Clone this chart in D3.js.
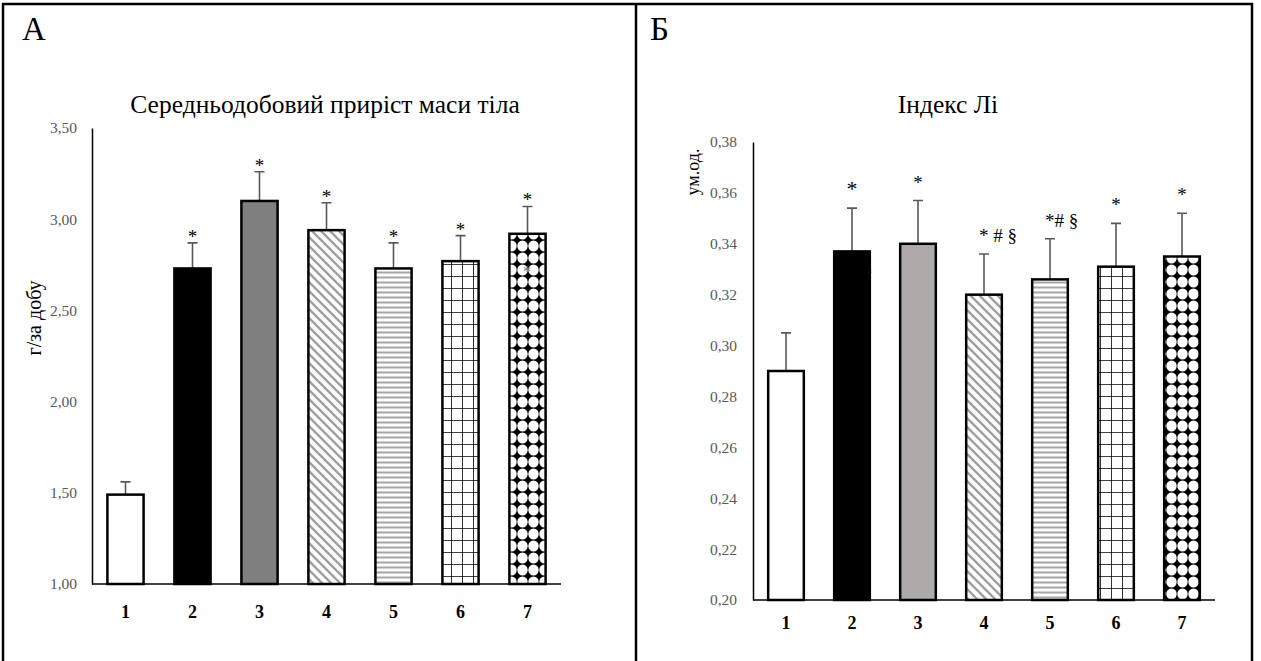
<!DOCTYPE html>
<html>
<head>
<meta charset="utf-8">
<script src="https://cdn.jsdelivr.net/npm/d3@7/dist/d3.min.js"></script>
<style>
  body { margin: 0; background: #fff; }
  text { font-family: "Liberation Serif", "Times New Roman", serif; }
</style>
</head>
<body>
<script>
// data
var groups = ["1", "2", "3", "4", "5", "6", "7"];

var gainValues = [1.49, 2.73, 3.10, 2.94, 2.73, 2.77, 2.92];
var gainErrors = [0.07, 0.14, 0.16, 0.15, 0.14, 0.14, 0.15];
var gainMarks  = ["", "*", "*", "*", "*", "*", "*"];
var gainTicks  = [1.00, 1.50, 2.00, 2.50, 3.00, 3.50];

var leeValues = [0.290, 0.337, 0.340, 0.320, 0.326, 0.331, 0.335];
var leeErrors = [0.015, 0.017, 0.017, 0.016, 0.016, 0.017, 0.017];
var leeMarks  = ["", "*", "*", "* # §", "*# §", "*", "*"];
var leeTicks  = [0.20, 0.22, 0.24, 0.26, 0.28, 0.30, 0.32, 0.34, 0.36, 0.38];

var fills = ["#fff", "#000", null, "url(#diag)", "url(#hstripe)", "url(#grid)", "url(#dots)"];

var svg = d3.select("body").append("svg")
    .attr("width", 1261)
    .attr("height", 661);

// patterns
var defs = svg.append("defs");

var diag = defs.append("pattern").attr("id", "diag")
    .attr("patternUnits", "userSpaceOnUse").attr("width", 9).attr("height", 9);
diag.append("rect").attr("width", 9).attr("height", 9).attr("fill", "#fff");
diag.append("path").attr("d", "M-2,-2 L11,11 M-2,7 L2,11 M7,-2 L11,2")
    .attr("stroke", "#a0a0a0").attr("stroke-width", 2.4);

var hs = defs.append("pattern").attr("id", "hstripe")
    .attr("patternUnits", "userSpaceOnUse").attr("width", 10).attr("height", 5);
hs.append("rect").attr("width", 10).attr("height", 5).attr("fill", "#fff");
hs.append("rect").attr("y", 1.5).attr("width", 10).attr("height", 2).attr("fill", "#a6a6a6");

var grid = defs.append("pattern").attr("id", "grid")
    .attr("patternUnits", "userSpaceOnUse").attr("width", 11).attr("height", 12);
grid.append("rect").attr("width", 11).attr("height", 12).attr("fill", "#fff");
grid.append("path").attr("d", "M0,0 V12 M0,0 H11")
    .attr("stroke", "#000").attr("stroke-width", 1.6);

var dots = defs.append("pattern").attr("id", "dots")
    .attr("patternUnits", "userSpaceOnUse").attr("width", 11).attr("height", 12);
dots.append("rect").attr("width", 11).attr("height", 12).attr("fill", "#000");
dots.append("ellipse").attr("cx", 5.5).attr("cy", 6).attr("rx", 5.2).attr("ry", 5.6).attr("fill", "#fff");

// frame of the two panels
var frame = svg.append("g").attr("stroke", "#000").attr("stroke-width", 2.5);
frame.append("line").attr("x1", 2).attr("x2", 1253).attr("y1", 4).attr("y2", 4);
frame.append("line").attr("x1", 3).attr("x2", 3).attr("y1", 3).attr("y2", 661);
frame.append("line").attr("x1", 636).attr("x2", 636).attr("y1", 3).attr("y2", 661);
frame.append("line").attr("x1", 1252).attr("x2", 1252).attr("y1", 3).attr("y2", 661);

function drawPanel(p) {
    var x = d3.scaleBand().domain(groups).range([p.x0, p.x1]).paddingInner(0.46).paddingOuter(0.23);
    var y = d3.scaleLinear().domain([p.ticks[0], p.ticks[p.ticks.length - 1]]).range([p.yBottom, p.yTop]);

    var g = svg.append("g");

    g.append("text").attr("x", p.letterX).attr("y", 40)
        .attr("font-size", 33).text(p.letter);

    g.append("text").attr("x", p.titleX).attr("y", 113)
        .attr("text-anchor", "middle").attr("font-size", 25.5).text(p.title);

    g.append("text")
        .attr("transform", "translate(" + p.ylabX + "," + p.ylabY + ") rotate(-90)")
        .attr("text-anchor", "middle").attr("font-size", p.ylabSize).text(p.ylabel);

    // stray marks left in the source picture
    (p.stray || []).forEach(function(s) {
        if (!s.front) g.append("text").attr("x", s.x).attr("y", s.y)
            .attr("font-size", 16).attr("fill", s.color).text("*");
    });

    var yAxis = g.append("g").attr("transform", "translate(" + p.x0 + ",0)")
        .call(d3.axisLeft(y).tickValues(p.ticks).tickSize(0).tickPadding(p.pad)
            .tickFormat(function(d) { return d.toFixed(2).replace(".", ","); }));
    yAxis.selectAll("text").attr("font-family", "Liberation Serif").attr("font-size", 15.5).attr("fill", "#595959");
    yAxis.select(".domain").attr("stroke", "#000").attr("stroke-width", 1.5);

    // error bars (upper only)
    g.selectAll(".err").data(p.values).enter().append("path")
        .attr("d", function(d, i) {
            var cx = x(groups[i]) + x.bandwidth() / 2;
            var top = y(d + p.errors[i]);
            return "M" + cx + "," + y(d) + " V" + top + " M" + (cx - 5) + "," + top + " H" + (cx + 5);
        })
        .attr("stroke", "#595959").attr("stroke-width", 1.6).attr("fill", "none");

    g.selectAll(".bar").data(p.values).enter().append("rect")
        .attr("x", function(d, i) { return x(groups[i]); })
        .attr("y", function(d) { return y(d); })
        .attr("width", x.bandwidth())
        .attr("height", function(d) { return p.yBottom - y(d); })
        .attr("fill", function(d, i) { return fills[i] || p.greyFill; })
        .attr("stroke", "#000").attr("stroke-width", 2.5);

    (p.stray || []).forEach(function(s) {
        if (s.front) g.append("text").attr("x", s.x).attr("y", s.y)
            .attr("font-size", 16).attr("fill", s.color).text("*");
    });

    g.append("line").attr("x1", p.x0).attr("x2", p.x1)
        .attr("y1", p.yBottom).attr("y2", p.yBottom)
        .attr("stroke", "#000").attr("stroke-width", 1.5);

    g.selectAll(".cat").data(groups).enter().append("text")
        .attr("x", function(d) { return x(d) + x.bandwidth() / 2; })
        .attr("y", p.yBottom + p.catDy)
        .attr("text-anchor", "middle").attr("font-size", 18).attr("font-weight", "bold")
        .text(function(d) { return d; });

    g.selectAll(".mark").data(p.marks).enter().append("text")
        .attr("x", function(d, i) {
            var cx = x(groups[i]) + x.bandwidth() / 2;
            return d.length > 1 ? cx - 5 : cx;
        })
        .attr("y", function(d, i) { return y(p.values[i] + p.errors[i]) - p.markDy; })
        .attr("text-anchor", function(d) { return d.length > 1 ? "start" : "middle"; })
        .attr("font-size", function(d, i) { return p.big && i === 1 ? 22 : 19; })
        .text(function(d) { return d; });
}

drawPanel({
    letter: "А", letterX: 22, title: "Середньодобовий приріст маси тіла", titleX: 325,
    ylabel: "г/за добу", ylabX: 41, ylabY: 318, ylabSize: 20,
    x0: 92, x1: 561, yTop: 128, yBottom: 584, pad: 15, catDy: 34,
    values: gainValues, errors: gainErrors, marks: gainMarks, ticks: gainTicks,
    greyFill: "#7f7f7f", markDy: 0, big: false,
    stray: [{x: 523, y: 277, color: "#777", front: true}]
});

drawPanel({
    letter: "Б", letterX: 650, title: "Індекс Лі", titleX: 948,
    ylabel: "ум.од.", ylabX: 699, ylabY: 172, ylabSize: 18,
    x0: 753, x1: 1215, yTop: 142, yBottom: 600, pad: 16, catDy: 29,
    values: leeValues, errors: leeErrors, marks: leeMarks, ticks: leeTicks,
    greyFill: "#aeaaaa", markDy: 12, big: true,
    stray: [{x: 864, y: 279, color: "#000", front: false}]
});
</script>
</body>
</html>
